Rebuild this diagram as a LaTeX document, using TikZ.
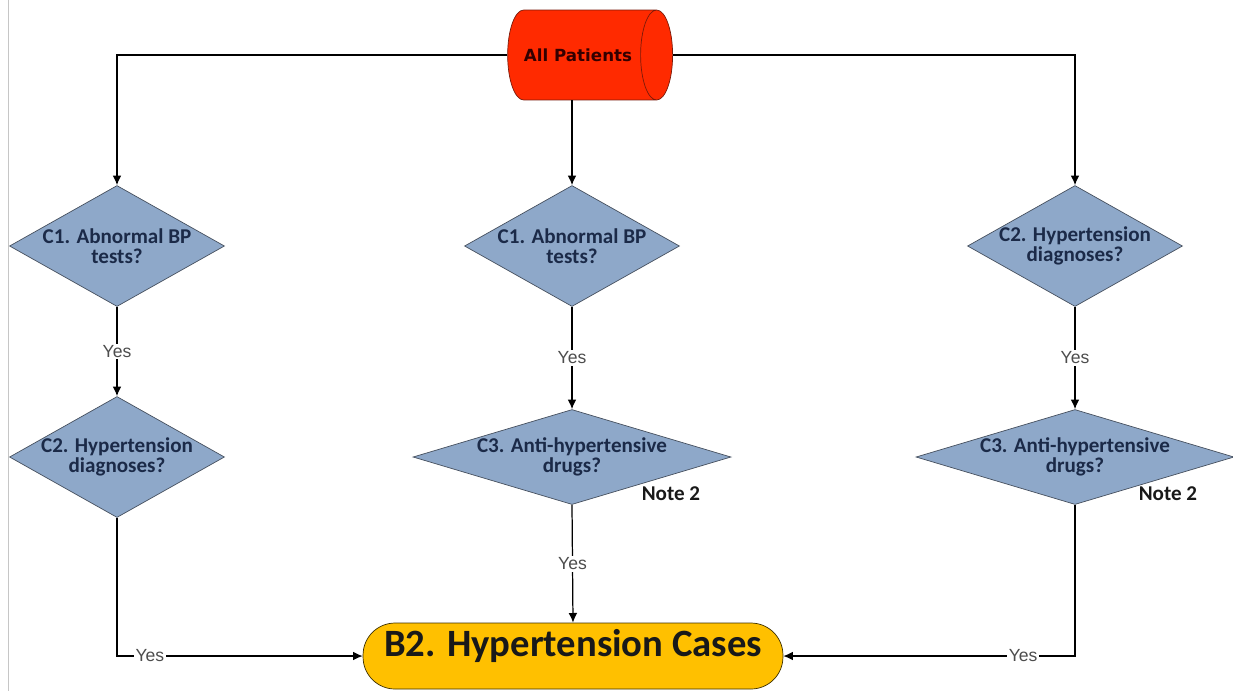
\documentclass[tikz,border=0pt]{standalone}
\usepackage{fontspec}
\setmainfont{Carlito}
\newfontfamily\yesfont{Liberation Sans}
\newfontfamily\patfont{DejaVu Sans}
\usetikzlibrary{shapes.geometric, arrows.meta}
\definecolor{patred}{HTML}{FF2A00}
\definecolor{patedge}{HTML}{7A1A0A}
\definecolor{diafill}{HTML}{8EA8C9}
\definecolor{diaedge}{HTML}{46505E}
\definecolor{diatext}{HTML}{1B2A48}
\definecolor{casefill}{HTML}{FFC000}
\definecolor{caseedge}{HTML}{3D3000}
\definecolor{yesgray}{HTML}{4D4D4D}
\begin{document}
\begin{tikzpicture}[x=0.02cm, y=-0.02cm,
		decision/.style={diamond, draw=diaedge, fill=diafill, text=diatext, align=center, aspect=1.777, inner xsep=-5pt, inner ysep=-5pt, minimum width=4.3cm, minimum height=2.42cm, font=\bfseries\fontsize{12}{11.6}\selectfont},
		widedecision/.style={decision, aspect=3.35, minimum width=6.36cm, minimum height=1.9cm},
		yeslabel/.style={fill=white, inner sep=1pt, text=yesgray, font=\yesfont\fontsize{10}{11}\selectfont},
		note/.style={font=\bfseries\fontsize{12}{14}\selectfont, text=black!90},
		flow/.style={->, >={Latex[length=5.5pt, width=5pt]}, line width=0.7pt}]
	\useasboundingbox (0,0) rectangle (1233,691);
	\draw[gray!45, line width=0.5pt] (8,0) -- (8,691);
	%Nodes:
	\node[cylinder, draw=patedge, fill=patred, aspect=1.3, minimum width=1.8cm, minimum height=3.3cm, font=\patfont\bfseries\fontsize{9.5}{10}\selectfont, text=black!80!red] (top) at (578,55) {All Patients};
	\node[decision] (left1) at (117,246) {C1. Abnormal BP\\tests?};
	\node[decision] (left2) at (117,457) {C2. Hypertension\\diagnoses?};
	\node[decision] (mid1) at (572,246) {C1. Abnormal BP\\tests?};
	\node[widedecision] (mid2) at (572,457) {C3. Anti-hypertensive\\drugs?};
	\node[decision] (right1) at (1075,246) {C2. Hypertension\\diagnoses?};
	\node[widedecision] (right2) at (1075,457) {C3. Anti-hypertensive\\drugs?};
	\node[note] (note1) at (671,494) {Note 2};
	\node[note] (note2) at (1168,494) {Note 2};
	\node[rectangle, rounded corners=0.64cm, draw=caseedge, fill=casefill, minimum width=8.4cm, minimum height=1.32cm, text height=0.4cm, text depth=0.4cm, inner ysep=0pt, font=\bfseries\fontsize{22}{24}\selectfont, text=black!90] (cases) at (573,656) {B2. Hypertension Cases};
	%Edges:
	\draw[flow] (top.west) -| (left1.north);
	\draw[flow] (top.east) -| (right1.north);
	\draw[flow] (top.south -| mid1.north) -- (mid1.north);
	\draw[flow] (left1.south) -- node[yeslabel] {Yes} (left2.north);
	\draw[flow] (mid1.south) -- node[yeslabel] {Yes} (mid2.north);
	\draw[flow] (right1.south) -- node[yeslabel] {Yes} (right2.north);
	\draw[flow] (mid2.south) -- node[yeslabel] {Yes} (cases.north);
	\draw[flow] (left2.south) |- node[yeslabel, pos=0.567] {Yes} (cases.west);
	\draw[flow] (right2.south) |- node[yeslabel, pos=0.589] {Yes} (cases.east);
\end{tikzpicture}
\end{document}
